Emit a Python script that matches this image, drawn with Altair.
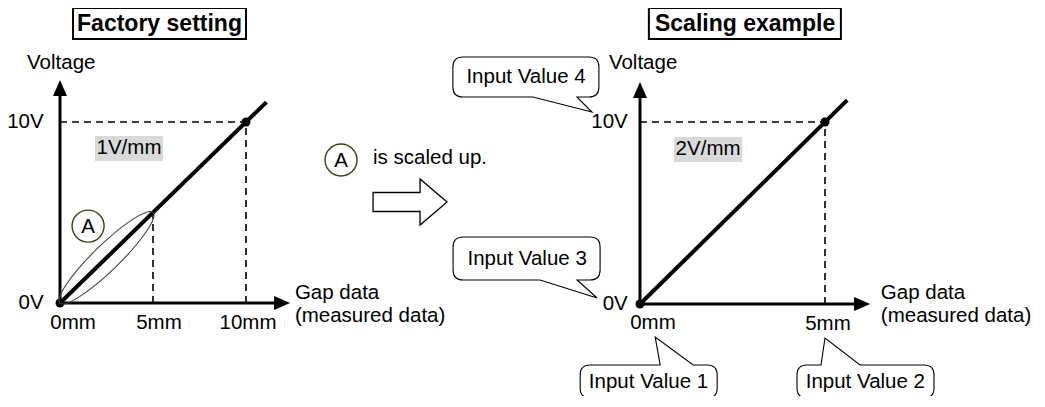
import altair as alt
import pandas as pd

FONT = "Liberation Sans"
BODY = 20.5
W, H = 1029, 388          # plot area; its top-left corner is the page point (8, 8)

# ---------------- data: left panel (factory setting, 1 V/mm) ----------------
L_title = "Factory setting"
L_rate = "1V/mm"
L_tick_labels = ["0mm", "5mm", "10mm"]
L_tick_x = [0.70, 5.32, 10.11]
L_volt_labels = ["0V", "10V"]
L_volt_y = [0, 10]
L_line = [0, 0, 11.1, 11.1]          # x, y, x2, y2 (mm, V)
L_dots_x = [0, 10]
L_dots_y = [0, 10]
L_dash_x = [0, 10, 5]
L_dash_y = [10, 0, 0]
L_dash_x2 = [10, 10, 5]
L_dash_y2 = [10, 10, 5]
L_region_A = [2.5, 2.5]              # centre of region A (0..5 mm)

# ---------------- data: right panel (scaling example, 2 V/mm) ---------------
R_title = "Scaling example"
R_rate = "2V/mm"
R_tick_labels = ["0mm", "5mm"]
R_tick_x = [0.35, 5.08]
R_tick_y = [-1.04, -1.10]
R_volt_labels = ["0V", "10V"]
R_volt_y = [0, 10]
R_line = [0, 0, 5.6, 11.2]
R_dots_x = [0, 5]
R_dots_y = [0, 10]
R_dash_x = [0, 5]
R_dash_y = [10, 0]
R_dash_x2 = [5, 5]
R_dash_y2 = [10, 10]
R_callout_text = ["Input Value 1", "Input Value 2", "Input Value 3", "Input Value 4"]
R_callout_tip_x = [0.41, 5.0, -1.16, -1.30]
R_callout_tip_y = [-1.81, -1.87, 0.33, 10.55]
R_callout_txt_x = [0.23, 6.09, -3.05, -3.08]
R_callout_txt_y = [-4.27, -4.27, 2.50, 12.47]

# ---------------- layout (pixels) ----------------
L_origin, L_k = (60, 303), (18.6, 18.1)
R_origin, R_k = (640, 304), (37.0, 18.2)


def domains(origin, k):
    ox, oy = origin
    kx, ky = k
    x0 = -(ox - 8) / kx
    y0 = (oy - 8 - H) / ky
    return [x0, x0 + W / kx], [y0, y0 + H / ky]


def scales(origin, k):
    dx, dy = domains(origin, k)
    return (alt.Scale(domain=dx, nice=False, zero=False),
            alt.Scale(domain=dy, nice=False, zero=False))


def enc_xy(xs, ys):
    return dict(x=alt.X("x:Q", scale=xs, axis=None), y=alt.Y("y:Q", scale=ys, axis=None))


def rules(df, xs, ys, **kw):
    return alt.Chart(df).mark_rule(**kw).encode(x2="x2:Q", y2="y2:Q", **enc_xy(xs, ys))


def rects(df, xs, ys, **kw):
    return alt.Chart(df).mark_rect(**kw).encode(x2="x2:Q", y2="y2:Q", **enc_xy(xs, ys))


def points(df, xs, ys, **kw):
    kw.setdefault("opacity", 1)
    return alt.Chart(df).mark_point(**kw).encode(**enc_xy(xs, ys))


def texts(df, xs, ys, **kw):
    kw.setdefault("font", FONT)
    kw.setdefault("fontSize", BODY)
    kw.setdefault("baseline", "middle")
    kw.setdefault("color", "black")
    return alt.Chart(df).mark_text(**kw).encode(text="t:N", **enc_xy(xs, ys))


def bubble(x0, y0, x1, y1, b1, b2, tail, r=10):
    top = f"M{x0 + r},{y0} "
    if tail == "top":
        top += f"L{b1},{y0} L0,0 L{b2},{y0} "
    top += f"L{x1 - r},{y0} Q{x1},{y0} {x1},{y0 + r} L{x1},{y1 - r} Q{x1},{y1} {x1 - r},{y1} "
    if tail == "bottom":
        top += f"L{b2},{y1} L0,0 L{b1},{y1} "
    top += f"L{x0 + r},{y1} Q{x0},{y1} {x0},{y1 - r} L{x0},{y0 + r} Q{x0},{y0} {x0 + r},{y0} Z"
    return top


UP_HEAD = "M0,0 L7,16 L-7,16 Z"
RIGHT_HEAD = "M0,0 L-16,-7 L-16,7 Z"
BLOCK_ARROW = "M-37,-9.5 L10,-9.5 L10,-23 L37,0 L10,23 L10,9.5 L-37,9.5 Z"
ELLIPSE = "M-65,0 A65,13 0 1,1 65,0 A65,13 0 1,1 -65,0 Z"
OLIVE = "#3d3d12"


def df(**cols):
    return pd.DataFrame(cols)


def panel(origin, k, p):
    xs, ys = scales(origin, k)
    layers = []
    # title box
    layers.append(rects(df(x=[p["tb"][0]], x2=[p["tb"][1]], y=[p["tb"][2]], y2=[p["tb"][3]]), xs, ys,
                        fill="white", stroke="black", strokeWidth=2))
    layers.append(texts(df(x=[p["tt"][0]], y=[p["tt"][1]], t=[p["title"]]), xs, ys,
                        fontSize=23, fontWeight="bold", align="center"))
    # rate label
    layers.append(rects(df(x=[p["rb"][0]], x2=[p["rb"][1]], y=[p["rb"][2]], y2=[p["rb"][3]]), xs, ys,
                        fill="#d9d9d9"))
    layers.append(texts(df(x=[p["rt"][0]], y=[p["rt"][1]], t=[p["rate"]]), xs, ys, align="center"))
    # dashed guides
    layers.append(rules(df(x=p["dash"][0], y=p["dash"][1], x2=p["dash"][2], y2=p["dash"][3]), xs, ys,
                        color="black", strokeWidth=1.6, strokeDash=[7, 5]))
    # axes
    ax = p["axes"]
    layers.append(rules(df(x=[0, 0], y=[0, 0], x2=[0, ax[0]], y2=[ax[1], 0]), xs, ys,
                        color="black", strokeWidth=3))
    layers.append(points(df(x=[0], y=[ax[3]]), xs, ys, shape=UP_HEAD, size=4, filled=True, color="black"))
    layers.append(points(df(x=[ax[2]], y=[0]), xs, ys, shape=RIGHT_HEAD, size=4, filled=True, color="black"))
    # characteristic line + dots
    ln = p["line"]
    layers.append(rules(df(x=[ln[0]], y=[ln[1]], x2=[ln[2]], y2=[ln[3]]), xs, ys,
                        color="black", strokeWidth=4))
    layers.append(points(df(x=p["dots"][0], y=p["dots"][1]), xs, ys, shape="circle", size=81,
                         filled=True, color="black"))
    # axis texts
    layers.append(texts(df(x=p["tick_x"], y=p["tick_y"], t=p["ticks"]), xs, ys, align="center"))
    layers.append(texts(df(x=[p["volt_x"]] * len(p["volts"]), y=p["volt_y"], t=p["volts"]), xs, ys,
                        align="right"))
    layers.append(texts(df(x=[p["vlab"][0]], y=[p["vlab"][1]], t=["Voltage"]), xs, ys, align="left"))
    layers.append(texts(df(x=[p["glab"][0]] * 2, y=[p["glab"][1], p["glab"][2]],
                           t=["Gap data", "(measured data)"]), xs, ys, align="left"))
    layers += p["extra"](xs, ys)
    return alt.layer(*layers)


def left_extra(xs, ys):
    out = []
    out.append(points(df(x=[L_region_A[0]], y=[L_region_A[1]]), xs, ys, shape=ELLIPSE, size=4,
                      angle=315.8, filled=False, color="#444444", strokeWidth=1.1))
    circ = df(x=[1.51, 15.11], y=[4.25, 7.90], t=["A", "A"])
    out.append(points(circ, xs, ys, shape="circle", size=1024, filled=False, color=OLIVE, strokeWidth=1.4))
    out.append(texts(circ, xs, ys, align="center", dy=1))
    out.append(texts(df(x=[16.83], y=[8.01], t=["is scaled up."]), xs, ys, align="left"))
    out.append(points(df(x=[18.82], y=[5.58]), xs, ys, shape=BLOCK_ARROW, size=4, filled=True,
                      fill="white", stroke="black", strokeWidth=1.3))
    return out


def right_extra(xs, ys):
    shapes = [
        bubble(-75, 28, 62, 61, 5, 38, "top"),
        bubble(-28, 27, 109, 60, -4, 35, "top"),
        bubble(-144, -61, 3, -18, -57, -20, "bottom"),
        bubble(-139, -55, 7, -15, -59, -15, "bottom"),
    ]
    cd = df(x=R_callout_tip_x, y=R_callout_tip_y, path=shapes)
    out = [alt.Chart(cd).mark_point(size=4, filled=True, fill="white", stroke="black", strokeWidth=1.1,
                                    opacity=1)
           .encode(shape=alt.Shape("path:N", scale=None), **enc_xy(xs, ys))]
    out.append(texts(df(x=R_callout_txt_x, y=R_callout_txt_y, t=R_callout_text), xs, ys, align="center"))
    return out


left_spec = dict(
    title=L_title, tb=[0.70, 10.0, 14.59, 16.30], tt=[5.35, 15.44],
    rate=L_rate, rb=[1.88, 5.54, 7.85, 9.23], rt=[3.71, 8.54],
    dash=[L_dash_x, L_dash_y, L_dash_x2, L_dash_y2],
    axes=[11.61, 11.49, 12.37, 12.32],
    line=L_line, dots=[L_dots_x, L_dots_y],
    ticks=L_tick_labels, tick_x=L_tick_x, tick_y=[-1.10] * 3,
    volts=L_volt_labels, volt_y=L_volt_y, volt_x=-0.88,
    vlab=[-1.77, 13.26], glab=[12.63, 0.55, -0.72],
    extra=left_extra,
)

right_spec = dict(
    title=R_title, tb=[0.24, 5.43, 14.56, 16.26], tt=[2.84, 15.41],
    rate=R_rate, rb=[0.92, 2.76, 7.80, 9.18], rt=[1.84, 8.49],
    dash=[R_dash_x, R_dash_y, R_dash_x2, R_dash_y2],
    axes=[5.81, 11.48, 6.22, 12.2],
    line=R_line, dots=[R_dots_x, R_dots_y],
    ticks=R_tick_labels, tick_x=R_tick_x, tick_y=R_tick_y,
    volts=R_volt_labels, volt_y=R_volt_y, volt_x=-0.33,
    vlab=[-0.84, 13.24], glab=[6.51, 0.60, -0.66],
    extra=right_extra,
)

chart = (
    alt.layer(panel(L_origin, L_k, left_spec), panel(R_origin, R_k, right_spec))
    .resolve_scale(x="independent", y="independent")
    .properties(width=W, height=H, padding=0, autosize=alt.AutoSizeParams(type="none"),
                background="white")
    .configure_view(stroke=None)
)

chart.save("out.html", embed_options={"renderer": "svg", "actions": False})
